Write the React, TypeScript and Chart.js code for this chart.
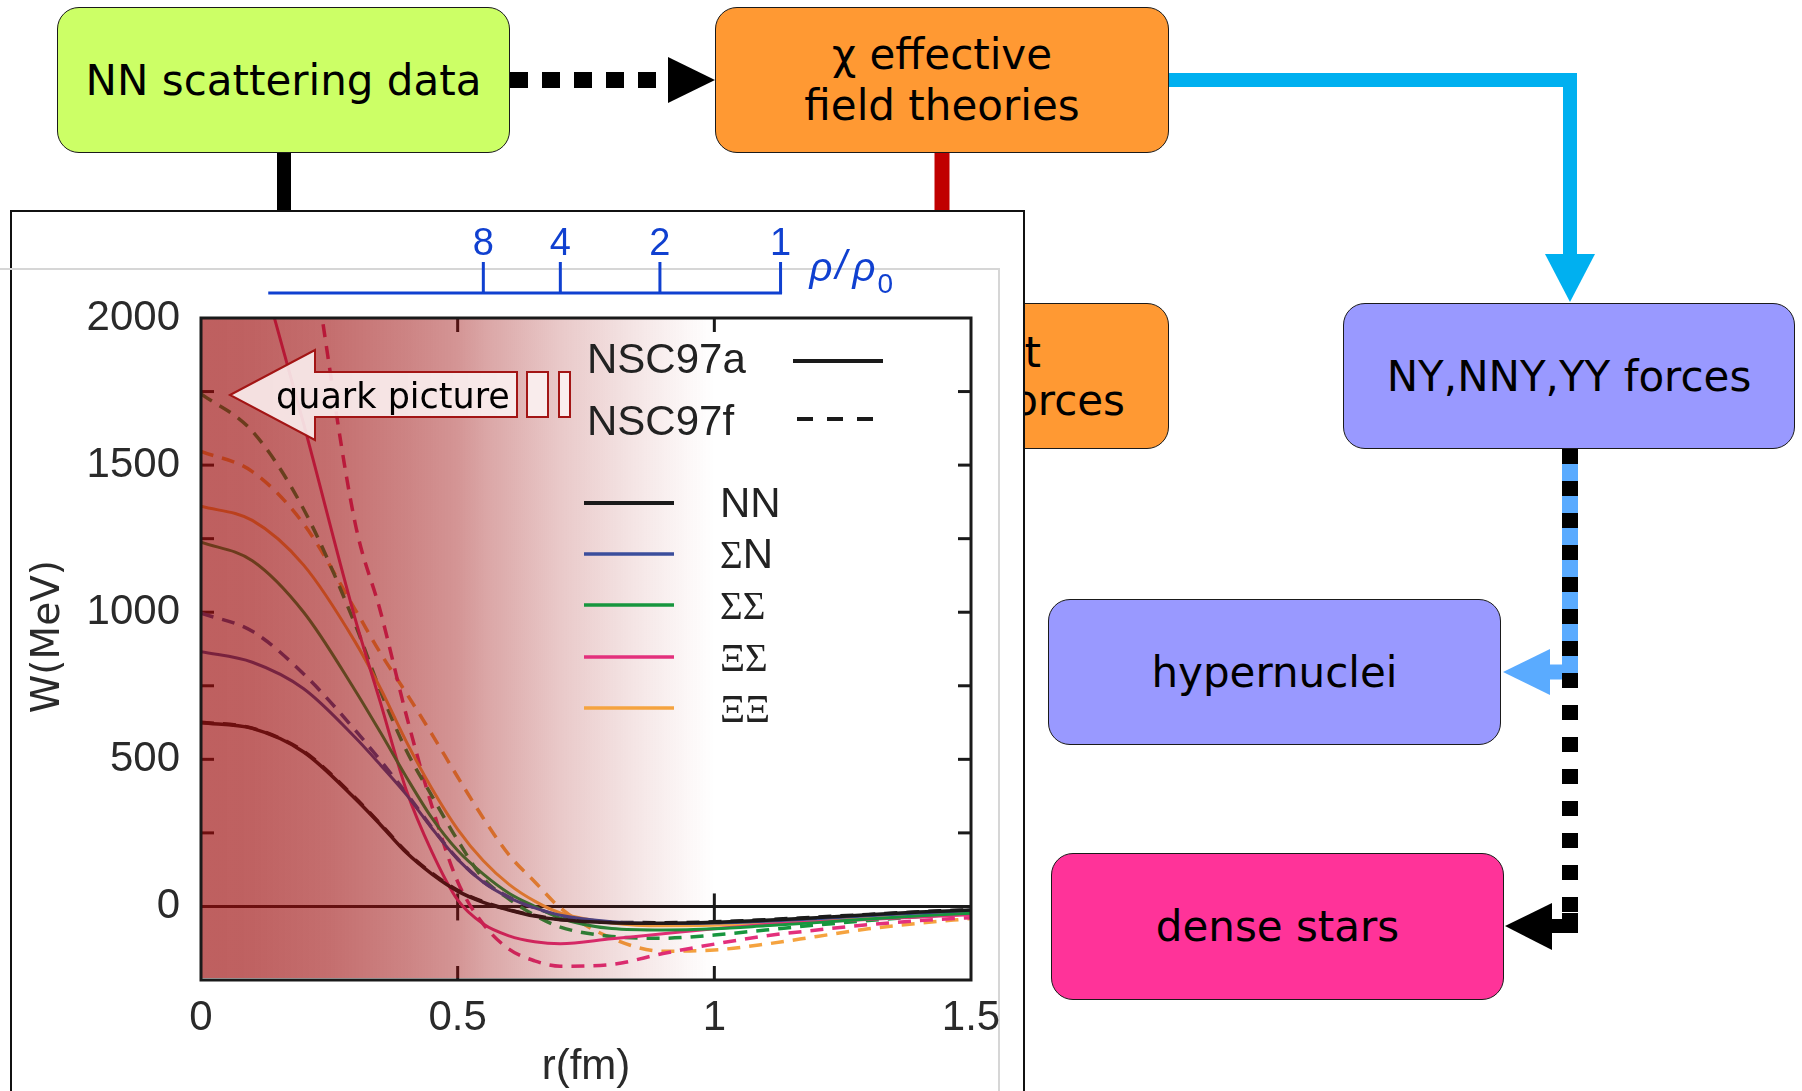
import React, { useEffect, useRef } from 'react';
import { Chart, registerables } from 'chart.js';
Chart.register(...registerables);

// ---------- data ----------
const rValues = [0, 0.1, 0.2, 0.3, 0.35, 0.4, 0.45, 0.5, 0.55, 0.6, 0.65, 0.7, 0.8, 0.9, 1.0, 1.1, 1.2, 1.3, 1.4, 1.5];

const nnA = [624, 605, 525, 367, 277, 183, 110, 52, 14, -12, -33, -45, -55, -57, -54, -47, -38, -28, -19, -12];
const nnF = [626, 606, 527, 370, 280, 186, 113, 55, 16, -11, -31, -44, -54, -55, -52, -45, -36, -27, -18, -11];
const snA = [866, 830, 740, 575, 480, 380, 265, 160, 82, 30, -5, -30, -52, -58, -56, -50, -42, -32, -22, -13];
const snF = [997, 935, 790, 600, 495, 385, 268, 162, 84, 32, -5, -32, -55, -60, -58, -52, -43, -33, -23, -14];
const ssA = [1238, 1175, 1000, 735, 590, 440, 300, 190, 110, 45, 0, -40, -75, -80, -76, -66, -55, -43, -32, -23];
const ssF = [1742, 1615, 1350, 960, 730, 530, 375, 225, 95, 25, -30, -70, -102, -108, -97, -80, -63, -48, -34, -23];
const xsA = [2900, 2270, 1640, 980, 690, 395, 185, 22, -60, -100, -120, -127, -110, -93, -76, -61, -52, -44, -36, -28];
const xsF = [3800, 3100, 2380, 1305, 1000, 650, 340, 84, -60, -145, -185, -203, -197, -160, -128, -100, -80, -62, -48, -38];
const xxA = [1360, 1312, 1160, 900, 740, 560, 400, 262, 155, 75, 18, -22, -56, -66, -64, -57, -47, -36, -26, -17];
const xxF = [1547, 1478, 1300, 1010, 860, 725, 585, 440, 300, 175, 84, -5, -108, -152, -148, -128, -102, -76, -57, -41];

const speciesNames = ['NN', 'ΣN', 'ΣΣ', 'ΞΣ', 'ΞΞ'];
const speciesColors = ['#1a1a1a', '#3b4e9c', '#17963e', '#e3307c', '#f5a33f'];
const modelNames = ['NSC97a', 'NSC97f'];
const seriesA = [nnA, snA, ssA, xsA, xxA];
const seriesF = [nnF, snF, ssF, xsF, xxF];

const xTickValues = [0, 0.5, 1, 1.5];
const yTickValues = [0, 500, 1000, 1500, 2000];
const yMarkValues = [250, 500, 750, 1000, 1250, 1500, 1750];
const xMarkValues = [0.5, 1];

const rhoLabels = ['8', '4', '2', '1'];
const rhoTickR = [0.55, 0.7, 0.894, 1.129];
const rhoAxisStartR = 0.131;

const overlayR = [0, 0.1, 0.25, 0.4, 0.5, 0.55, 0.7, 0.85, 0.95, 1.0];
const overlayAlpha = [0.65, 0.64, 0.59, 0.5, 0.43, 0.37, 0.22, 0.1, 0.03, 0];

// ---------- chart decorations ----------
function seg(ctx: CanvasRenderingContext2D, x1: number, y1: number, x2: number, y2: number) {
  ctx.beginPath();
  ctx.moveTo(x1, y1);
  ctx.lineTo(x2, y2);
  ctx.stroke();
}

function drawMixed(ctx: CanvasRenderingContext2D, text: string, x: number, baseline: number) {
  let cx = x;
  for (const ch of text) {
    const greek = /[\u0370-\u03FF]/.test(ch);
    ctx.font = greek ? '39px "Liberation Serif"' : '42px "Liberation Sans"';
    ctx.fillText(ch, cx, baseline);
    cx += ctx.measureText(ch).width;
  }
}

const decor = {
  id: 'decor',
  beforeDatasetsDraw(chart: any) {
    const { ctx, chartArea: a, scales } = chart;
    const x = scales.x, y = scales.y;
    ctx.save();
    ctx.strokeStyle = '#1a1a1a';
    ctx.lineWidth = 3;
    const y0 = y.getPixelForValue(0);
    seg(ctx, a.left, y0, a.right, y0);
    for (const v of yMarkValues) {
      const py = y.getPixelForValue(v);
      seg(ctx, a.left, py, a.left + 13, py);
      seg(ctx, a.right - 13, py, a.right, py);
    }
    for (const v of xMarkValues) {
      const px = x.getPixelForValue(v);
      seg(ctx, px, a.top, px, a.top + 14);
      seg(ctx, px, a.bottom - 14, px, a.bottom);
      seg(ctx, px, y0 - 13, px, y0 + 14);
    }
    ctx.restore();
  },
  afterDatasetsDraw(chart: any) {
    const { ctx, chartArea: a, scales } = chart;
    const x = scales.x;
    ctx.save();
    const g = ctx.createLinearGradient(a.left, 0, a.right, 0);
    overlayR.forEach((r, i) => {
      const f = (x.getPixelForValue(r) - a.left) / (a.right - a.left);
      g.addColorStop(Math.min(1, Math.max(0, f)), `rgba(155,9,9,${overlayAlpha[i]})`);
    });
    ctx.fillStyle = g;
    ctx.fillRect(a.left + 1, a.top + 1, a.right - a.left - 2, a.bottom - a.top - 3);
    ctx.strokeStyle = '#1a1a1a';
    ctx.lineWidth = 3;
    ctx.strokeRect(a.left, a.top, a.right - a.left, a.bottom - a.top);
    ctx.restore();
  },
  afterDraw(chart: any) {
    const { ctx, chartArea: a, scales } = chart;
    const x = scales.x;
    ctx.save();
    // ---- legend: models ----
    ctx.fillStyle = '#222';
    ctx.textBaseline = 'alphabetic';
    ctx.textAlign = 'left';
    ctx.font = '42px "Liberation Sans"';
    ctx.fillText(modelNames[0], a.left + 386, a.top + 55);
    ctx.fillText(modelNames[1], a.left + 386, a.top + 117);
    ctx.strokeStyle = '#1a1a1a';
    ctx.lineWidth = 4;
    seg(ctx, a.left + 592, a.top + 43, a.left + 682, a.top + 43);
    ctx.setLineDash([16, 14]);
    seg(ctx, a.left + 596, a.top + 101, a.left + 680, a.top + 101);
    ctx.setLineDash([]);
    // ---- legend: species ----
    const ly = [185, 236, 287, 339, 390];
    speciesNames.forEach((n, i) => {
      ctx.strokeStyle = speciesColors[i];
      ctx.lineWidth = i === 0 ? 4 : 3.5;
      seg(ctx, a.left + 383, a.top + ly[i], a.left + 473, a.top + ly[i]);
      ctx.fillStyle = '#222';
      drawMixed(ctx, n, a.left + 519, a.top + ly[i] + 14);
    });
    // ---- quark picture arrow ----
    const ox = a.left, oy = a.top;
    ctx.fillStyle = 'rgba(252,242,242,0.88)';
    ctx.strokeStyle = '#a31515';
    ctx.lineWidth = 2;
    ctx.beginPath();
    ctx.moveTo(ox + 29, oy + 77);
    ctx.lineTo(ox + 114, oy + 32);
    ctx.lineTo(ox + 114, oy + 54);
    ctx.lineTo(ox + 316, oy + 54);
    ctx.lineTo(ox + 316, oy + 99);
    ctx.lineTo(ox + 114, oy + 99);
    ctx.lineTo(ox + 114, oy + 122);
    ctx.closePath();
    ctx.fill();
    ctx.stroke();
    ctx.fillRect(ox + 326, oy + 54, 21, 45);
    ctx.strokeRect(ox + 326, oy + 54, 21, 45);
    ctx.fillRect(ox + 358, oy + 54, 11, 45);
    ctx.strokeRect(ox + 358, oy + 54, 11, 45);
    ctx.fillStyle = '#000';
    ctx.font = '35px "DejaVu Sans"';
    ctx.fillText('quark picture', ox + 75, oy + 90);
    // ---- rho / rho0 axis ----
    const blue = '#1040d0';
    ctx.strokeStyle = blue;
    ctx.fillStyle = blue;
    ctx.lineWidth = 3;
    const axisY = a.top - 25;
    seg(ctx, x.getPixelForValue(rhoAxisStartR), axisY, x.getPixelForValue(rhoTickR[rhoTickR.length - 1]) + 1.5, axisY);
    ctx.font = '38px "Liberation Sans"';
    ctx.textAlign = 'center';
    rhoTickR.forEach((r, i) => {
      const px = x.getPixelForValue(r);
      seg(ctx, px, axisY, px, axisY - 31);
      ctx.fillText(rhoLabels[i], px, axisY - 38);
    });
    ctx.textAlign = 'left';
    const lx = x.getPixelForValue(rhoTickR[rhoTickR.length - 1]) + 29;
    ctx.font = 'italic 40px "Liberation Sans"';
    ctx.fillText('ρ', lx, axisY - 12);
    ctx.fillText('/', lx + 26, axisY - 14);
    ctx.fillText('ρ', lx + 43, axisY - 12);
    ctx.font = '28px "Liberation Sans"';
    ctx.fillText('0', lx + 68, axisY);
    ctx.restore();
  },
};

function buildDatasets() {
  const ds: any[] = [];
  seriesA.forEach((s, i) => {
    ds.push({
      label: speciesNames[i] + ' ' + modelNames[0],
      data: rValues.map((r, k) => ({ x: r, y: s[k] })),
      borderColor: speciesColors[i],
      borderWidth: i === 0 ? 3.5 : 3,
      pointRadius: 0,
      cubicInterpolationMode: 'monotone',
      clip: 0,
    });
  });
  seriesF.forEach((s, i) => {
    ds.push({
      label: speciesNames[i] + ' ' + modelNames[1],
      data: rValues.map((r, k) => ({ x: r, y: s[k] })),
      borderColor: speciesColors[i],
      borderWidth: 3.5,
      borderDash: [13, 9],
      pointRadius: 0,
      cubicInterpolationMode: 'monotone',
      clip: 0,
    });
  });
  return ds;
}

function PlotChart() {
  const ref = useRef<HTMLCanvasElement>(null);
  useEffect(() => {
    const c = ref.current;
    if (!c) return;
    const tickFont = { family: 'Liberation Sans', size: 42 };
    const chart = new Chart(c, {
      type: 'line',
      data: { datasets: buildDatasets() },
      options: {
        animation: false,
        responsive: true,
        maintainAspectRatio: false,
        layout: { padding: { left: 0, top: 108, right: 54, bottom: 0 } },
        plugins: { legend: { display: false }, tooltip: { enabled: false } },
        scales: {
          x: {
            type: 'linear',
            min: 0,
            max: 1.5,
            grid: { display: false, drawTicks: false },
            border: { display: false },
            afterBuildTicks: (s: any) => {
              s.ticks = xTickValues.map((v) => ({ value: v }));
            },
            ticks: {
              font: tickFont,
              color: '#2a2a2a',
              padding: 13,
              maxRotation: 0,
              autoSkip: false,
              callback: (v: any) => String(v),
            },
            title: {
              display: true,
              text: 'r(fm)',
              font: { family: 'Liberation Sans', size: 42, lineHeight: 1.1 },
              color: '#2a2a2a',
              padding: { top: 0, bottom: 0 },
            },
            afterFit: (s: any) => {
              s.height = 111;
            },
          },
          y: {
            type: 'linear',
            min: -250,
            max: 2000,
            grid: { display: false, drawTicks: false },
            border: { display: false },
            afterBuildTicks: (s: any) => {
              s.ticks = yTickValues.map((v) => ({ value: v }));
            },
            ticks: {
              font: tickFont,
              color: '#2a2a2a',
              padding: 21,
              autoSkip: false,
              callback: (v: any) => String(v),
            },
            title: {
              display: true,
              text: '\u00a0\u00a0W(MeV)',
              font: { family: 'DejaVu Sans', size: 39, lineHeight: 1.2 },
              color: '#2a2a2a',
              padding: { top: 15, bottom: 0 },
            },
            afterFit: (s: any) => {
              s.width = 191;
            },
          },
        },
      } as any,
      plugins: [decor],
    });
    return () => chart.destroy();
  }, []);
  return (
    <div style={{ position: 'absolute', left: 10, top: 210, width: 1015, height: 881, zIndex: 5 }}>
      <canvas ref={ref} style={{ display: 'block' }} />
    </div>
  );
}

function Box(props: { left: number; top: number; width: number; height: number; bg: string; z?: number; children?: any }) {
  const { left, top, width, height, bg, z, children } = props;
  return (
    <div
      style={{
        position: 'absolute',
        left,
        top,
        width,
        height,
        boxSizing: 'border-box',
        background: bg,
        border: '1.5px solid #1a1a1a',
        borderRadius: 22,
        display: 'flex',
        alignItems: 'center',
        justifyContent: 'center',
        textAlign: 'center',
        fontFamily: '"DejaVu Sans"',
        fontSize: 42,
        lineHeight: '51px',
        color: '#000',
        zIndex: z ?? 2,
        overflow: 'hidden',
      }}
    >
      {children}
    </div>
  );
}

export default function App() {
  return (
    <div
      style={{
        position: 'fixed',
        left: 0,
        top: 0,
        width: 1802,
        height: 1091,
        overflow: 'hidden',
        background: '#fff',
        fontFamily: '"DejaVu Sans"',
      }}
    >
      <svg width={1802} height={1091} style={{ position: 'absolute', left: 0, top: 0, zIndex: 1 }}>
        {/* dotted arrow NN -> chi EFT */}
        <line x1={510} y1={80} x2={668} y2={80} stroke="#000" strokeWidth={16} strokeDasharray="18 14" />
        <polygon points="668,57 715,80 668,103" fill="#000" />
        {/* connectors into panel */}
        <line x1={284} y1={153} x2={284} y2={214} stroke="#000" strokeWidth={14} />
        <line x1={942} y1={153} x2={942} y2={214} stroke="#c00000" strokeWidth={15} />
        {/* cyan arrow */}
        <polyline points="1169,80 1570,80 1570,258" fill="none" stroke="#00b0f0" strokeWidth={14} strokeLinejoin="miter" />
        <polygon points="1545,254 1595,254 1570,302" fill="#00b0f0" />
        {/* light blue path to hypernuclei */}
        <line x1={1570} y1={449} x2={1570} y2={679} stroke="#5aabff" strokeWidth={16} />
        <line x1={1577} y1={672} x2={1546} y2={672} stroke="#5aabff" strokeWidth={15} />
        <polygon points="1550,649 1503,672 1550,695" fill="#5aabff" />
        {/* black dashed path to dense stars */}
        <line x1={1570} y1={449} x2={1570} y2={913} stroke="#000" strokeWidth={16} strokeDasharray="15 17" />
        <line x1={1578} y1={926} x2={1548} y2={926} stroke="#000" strokeWidth={14} />
        <line x1={1570} y1={913} x2={1570} y2={933} stroke="#000" strokeWidth={16} />
        <polygon points="1552,903 1505,926 1552,950" fill="#000" />
      </svg>

      <Box left={57} top={7} width={453} height={146} bg="#ccff66">
        NN scattering data
      </Box>
      <Box left={715} top={7} width={454} height={146} bg="#ff9933">
        <div>
          χ effective
          <br />
          field theories
        </div>
      </Box>
      <div
        style={{
          position: 'absolute',
          left: 715,
          top: 303,
          width: 454,
          height: 146,
          boxSizing: 'border-box',
          background: '#ff9933',
          border: '1.5px solid #1a1a1a',
          borderRadius: 22,
          fontFamily: '"DejaVu Sans"',
          fontSize: 42,
          lineHeight: '42px',
          zIndex: 2,
          overflow: 'hidden',
        }}
      >
        <div style={{ position: 'absolute', right: 127, top: 28, whiteSpace: 'nowrap' }}>QCD input</div>
        <div style={{ position: 'absolute', right: 43, top: 76, whiteSpace: 'nowrap' }}>quark-model forces</div>
      </div>
      <Box left={1343} top={303} width={452} height={146} bg="#9999ff">
        NY,NNY,YY forces
      </Box>
      <Box left={1048} top={599} width={453} height={146} bg="#9999ff">
        hypernuclei
      </Box>
      <Box left={1051} top={853} width={453} height={147} bg="#ff3399">
        dense stars
      </Box>

      {/* plot panel */}
      <div
        style={{
          position: 'absolute',
          left: 10,
          top: 210,
          width: 1015,
          height: 920,
          boxSizing: 'border-box',
          border: '2px solid #111',
          background: '#fff',
          zIndex: 3,
        }}
      />
      <div style={{ position: 'absolute', left: 0, top: 268, width: 999, height: 2, background: '#d6d6d6', zIndex: 4 }} />
      <div style={{ position: 'absolute', left: 998, top: 268, width: 2, height: 830, background: '#d6d6d6', zIndex: 4 }} />

      <PlotChart />
    </div>
  );
}
